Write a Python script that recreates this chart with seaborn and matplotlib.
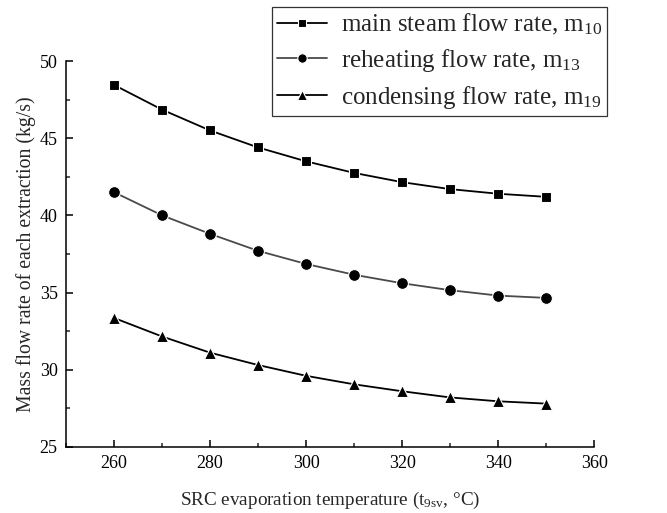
import matplotlib
matplotlib.use("Agg")
import matplotlib.pyplot as plt
import seaborn as sns
import pandas as pd
from matplotlib.ticker import MultipleLocator

temperature = [260, 270, 280, 290, 300, 310, 320, 330, 340, 350]
main_steam = [48.45, 46.85, 45.5, 44.4, 43.5, 42.75, 42.15, 41.7, 41.4, 41.2]
reheating = [41.5, 40.0, 38.8, 37.7, 36.85, 36.15, 35.6, 35.15, 34.8, 34.65]
condensing = [33.35, 32.15, 31.1, 30.3, 29.6, 29.05, 28.6, 28.2, 27.95, 27.8]
labels = ["main steam flow rate, m$_{10}$",
          "reheating flow rate, m$_{13}$",
          "condensing flow rate, m$_{19}$"]

sns.set_style("ticks")
plt.rcParams['font.family'] = ['Liberation Serif', 'DejaVu Serif']
plt.rcParams['mathtext.fontset'] = 'custom'
plt.rcParams['mathtext.rm'] = 'Liberation Serif'
plt.rcParams['mathtext.it'] = 'Liberation Serif'

fig = plt.figure(figsize=(6.67, 5.13), dpi=100)
ax = fig.add_axes([0.099, 0.129, 0.792, 0.752])

series = [main_steam, reheating, condensing]
markers = ["s", "o", "^"]
colors = ["black", "#4a4a4a", "black"]
msizes = [7.5, 8.5, 8.5]
for vals, lab, mk, c, ms in zip(series, labels, markers, colors, msizes):
    df = pd.DataFrame({"t": temperature, "m": vals})
    sns.lineplot(data=df, x="t", y="m", ax=ax, color=c, marker=mk,
                 markersize=ms, markerfacecolor="black", markeredgecolor="white",
                 markeredgewidth=0.8, linewidth=1.3, label=lab)

ax.set_xlim(250, 360)
ax.set_ylim(25, 50)
ax.xaxis.set_major_locator(MultipleLocator(20))
ax.xaxis.set_minor_locator(MultipleLocator(10))
ax.yaxis.set_major_locator(MultipleLocator(5))
ax.yaxis.set_minor_locator(MultipleLocator(2.5))
ax.tick_params(which='major', direction='in', length=5, width=1.1, labelsize=13, colors='black', pad=6)
ax.tick_params(which='minor', direction='in', length=3, width=1.1)
for s in ['left', 'bottom']:
    ax.spines[s].set_linewidth(1.1)
    ax.spines[s].set_color('black')
sns.despine(ax=ax)
ax.set_xlabel(r"SRC evaporation temperature (t$_{\mathrm{9sv}}$, °C)", fontsize=13.8, labelpad=13)
ax.set_ylabel("Mass flow rate of each extraction (kg/s)", fontsize=14.2, labelpad=3)

leg = ax.legend(loc='upper right', bbox_to_anchor=(0.91, 0.987), bbox_transform=fig.transFigure,
                fontsize=18, frameon=True, fancybox=False, edgecolor='#333333',
                handlelength=2.0, handletextpad=0.55, borderpad=0.2, labelspacing=0.4,
                borderaxespad=0, markerscale=0.8)
leg.get_frame().set_linewidth(0.9)
leg.get_frame().set_alpha(1)

fig.savefig("out.png", dpi=100, facecolor="white")
